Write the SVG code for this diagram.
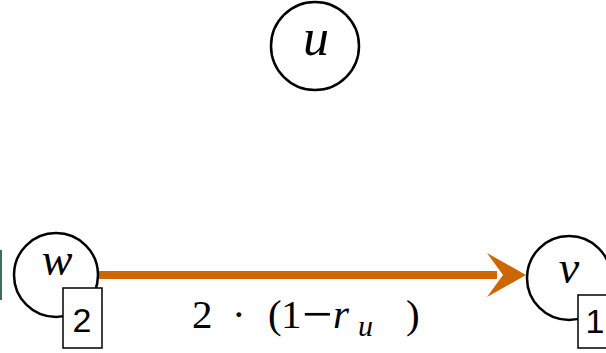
<svg xmlns="http://www.w3.org/2000/svg" width="606" height="353" viewBox="0 0 606 353">
<style>
.node{fill:#fff;stroke:#000;stroke-width:2.5}
.box{fill:#fff;stroke:#000;stroke-width:1.5}
.var{font-family:"Liberation Serif",serif;font-style:italic;fill:#000;text-anchor:middle}
.num{font-family:"Liberation Sans",sans-serif;font-size:34px;fill:#000;text-anchor:middle}
.lbl{font-family:"Liberation Serif",serif;font-size:41px;fill:#000}
</style>
<rect x="0" y="250" width="2" height="50" fill="#3f6e5e"/>
<g id="connectors">
<line x1="97" y1="275" x2="497" y2="275" stroke="#CC6600" stroke-width="8"/>
<polygon points="526,275 487,253 503,275 487,297" fill="#CC6600"/>
<text class="lbl" y="328"><tspan x="192">2</tspan><tspan x="232">·</tspan><tspan x="268">(</tspan><tspan x="281">1</tspan><tspan x="302" y="332" font-size="54">−</tspan><tspan x="333" y="328" font-style="italic">r</tspan><tspan x="358" y="336" font-size="30" font-style="italic">u</tspan><tspan x="406" y="328">)</tspan></text>
</g>
<g id="node-u">
<circle class="node" cx="315" cy="46" r="44"/>
<text class="var" x="316" y="55" font-size="52">u</text>
</g>
<g id="node-w">
<circle class="node" cx="56" cy="275" r="42"/>
<text class="var" x="57" y="275" font-size="46">w</text>
<rect class="box" x="63" y="288" width="39" height="60"/>
<text class="num" x="82" y="332">2</text>
</g>
<g id="node-v">
<circle class="node" cx="569" cy="278" r="42"/>
<text class="var" x="569" y="283" font-size="46">v</text>
<rect class="box" x="578" y="295" width="40" height="53"/>
<text class="num" x="595" y="333">1</text>
</g>
</svg>
